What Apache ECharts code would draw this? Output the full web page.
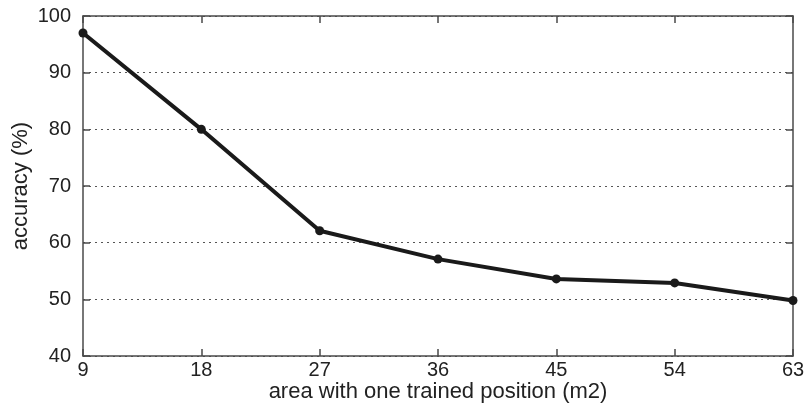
<!DOCTYPE html>
<html>
<head>
<meta charset="utf-8">
<script src="https://cdn.jsdelivr.net/npm/echarts@6/dist/echarts.min.js"></script>
<style>html,body{margin:0;padding:0;background:#fff}#c{width:806px;height:403px}</style>
</head>
<body>
<div id="c"></div>
<script>
const areas = [9, 18, 27, 36, 45, 54, 63];
const accuracy = [97, 80, 62.1, 57.1, 53.6, 52.9, 49.8];
const xTicks = [9, 18, 27, 36, 45, 54, 63];
const yTicks = [40, 50, 60, 70, 80, 90, 100];

const chart = echarts.init(document.getElementById('c'), null, {renderer: 'canvas'});
const font = 'Liberation Sans, Arial, sans-serif';
const axisCol = '#4a4a4a';
const txtCol = '#222';
chart.setOption({
  animation: false,
  backgroundColor: '#fff',
  grid: {left: 83, right: 13, top: 16, bottom: 47, containLabel: false, outerBoundsMode: 'none'},
  xAxis: [{
    type: 'value', min: xTicks[0], max: xTicks[xTicks.length-1], interval: 9,
    name: 'area with one trained position (m2)', nameLocation: 'middle', nameGap: 25,
    nameMoveOverlap: false,
    nameTextStyle: {fontFamily: font, fontSize: 22, color: txtCol},
    axisLine: {lineStyle: {color: axisCol, width: 1.5}},
    axisTick: {inside: true, length: 7, lineStyle: {color: axisCol, width: 1.5}},
    axisLabel: {fontFamily: font, fontSize: 20, color: txtCol, margin: 4},
    splitLine: {show: false}
  }, {
    type: 'value', position: 'top', min: xTicks[0], max: xTicks[xTicks.length-1], interval: 9,
    axisLine: {lineStyle: {color: axisCol, width: 1.5}},
    axisTick: {inside: true, length: 7, lineStyle: {color: axisCol, width: 1.5}},
    axisLabel: {show: false}, splitLine: {show: false}
  }],
  yAxis: [{
    type: 'value', min: yTicks[0], max: yTicks[yTicks.length-1], interval: 10,
    name: 'accuracy (%)', nameLocation: 'middle', nameGap: 51, nameRotate: 90,
    nameMoveOverlap: false,
    nameTextStyle: {fontFamily: font, fontSize: 22, color: txtCol},
    axisLine: {show: true, lineStyle: {color: axisCol, width: 1.5}},
    axisTick: {show: true, inside: true, length: 7, lineStyle: {color: axisCol, width: 1.5}},
    axisLabel: {fontFamily: font, fontSize: 20, color: txtCol, margin: 12},
    splitLine: {show: true, lineStyle: {color: '#555', width: 1, type: [2, 4]}}
  }, {
    type: 'value', position: 'right', min: yTicks[0], max: yTicks[yTicks.length-1], interval: 10,
    axisLine: {show: true, lineStyle: {color: axisCol, width: 1.5}},
    axisTick: {show: true, inside: true, length: 7, lineStyle: {color: axisCol, width: 1.5}},
    axisLabel: {show: false}, splitLine: {show: false}
  }],
  series: [{
    type: 'line',
    data: areas.map((a, i) => [a, accuracy[i]]),
    lineStyle: {color: '#1a1a1a', width: 4},
    itemStyle: {color: '#1a1a1a'},
    symbol: 'circle', symbolSize: 9,
    showAllSymbol: true
  }]
});
</script>
</body>
</html>
